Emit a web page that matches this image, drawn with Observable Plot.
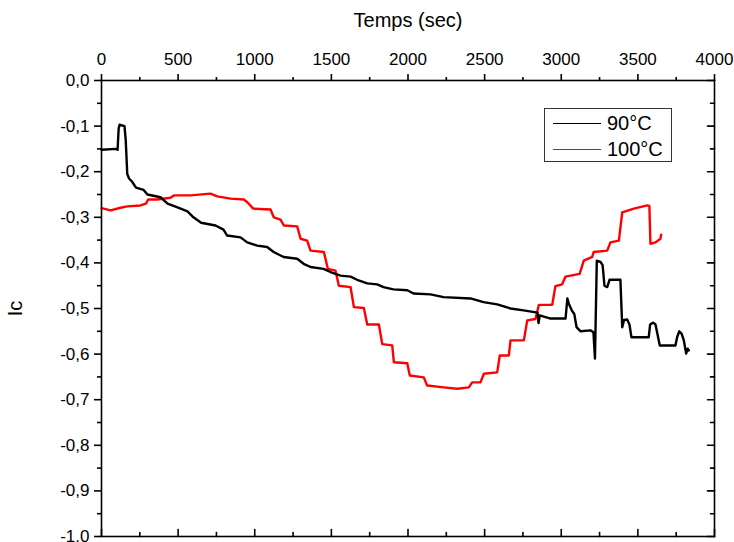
<!DOCTYPE html>
<html><head><meta charset="utf-8">
<script src="https://cdn.jsdelivr.net/npm/d3@7"></script>
<script src="https://cdn.jsdelivr.net/npm/@observablehq/plot@0.6"></script>
<style>
html,body{margin:0;padding:0;background:#fff;overflow:hidden;}
#wrap{position:relative;width:734px;height:542px;font-family:"Liberation Sans",Arial,sans-serif;color:#000;}
#legend{position:absolute;left:544px;top:108px;width:128px;height:54px;border:1px solid #333;box-sizing:border-box;background:#fff;}
.li{position:absolute;left:0;height:26px;width:126px;}
.li .sw{position:absolute;left:8px;width:48px;top:13px;height:0;border-top:1.3px solid;}
.li .lb{position:absolute;left:62px;top:1px;font-size:20px;line-height:24px;}
</style></head>
<body><div id="wrap"><div id="chart"></div><div id="legend"></div></div>
<script>
// 90°C series: time (s) and Ic
const t90 = [0,95,105,112,118,150,158,168,180,200,225,275,300,385,431,496,561,600,650,744,796,820,907,951,1016,1081,1123,1188,1277,1319,1364,1449,1494,1560,1625,1668,1734,1799,1840,1905,1995,2036,2147,2232,2408,2493,2582,2669,2754,2845,2852,2860,2930,3028,3040,3050,3070,3085,3100,3126,3191,3210,3220,3232,3256,3270,3282,3300,3315,3386,3398,3410,3430,3445,3458,3571,3580,3600,3615,3643,3745,3756,3770,3785,3800,3815,3825,3832];
const ic90 = [-0.152,-0.150,-0.152,-0.105,-0.097,-0.100,-0.130,-0.205,-0.215,-0.222,-0.235,-0.240,-0.250,-0.256,-0.270,-0.278,-0.287,-0.300,-0.312,-0.318,-0.327,-0.340,-0.344,-0.355,-0.362,-0.365,-0.376,-0.387,-0.391,-0.402,-0.409,-0.413,-0.420,-0.428,-0.430,-0.437,-0.445,-0.447,-0.453,-0.458,-0.460,-0.467,-0.469,-0.475,-0.478,-0.486,-0.491,-0.500,-0.504,-0.509,-0.532,-0.515,-0.522,-0.522,-0.478,-0.490,-0.505,-0.512,-0.541,-0.550,-0.548,-0.552,-0.610,-0.395,-0.398,-0.405,-0.450,-0.453,-0.437,-0.437,-0.541,-0.525,-0.524,-0.535,-0.563,-0.563,-0.535,-0.531,-0.535,-0.581,-0.581,-0.563,-0.550,-0.555,-0.570,-0.599,-0.588,-0.592];
// 100°C series
const t100 = [0,60,124,168,254,290,305,363,450,472,581,711,755,842,929,955,990,1103,1124,1168,1190,1277,1299,1342,1364,1451,1477,1527,1549,1625,1647,1712,1734,1810,1832,1897,1908,1995,2012,2103,2125,2234,2321,2397,2419,2473,2495,2582,2599,2658,2669,2756,2778,2832,2854,2941,2962,3006,3028,3120,3147,3202,3212,3300,3321,3376,3398,3474,3561,3575,3582,3615,3647,3652];
const ic100 = [-0.280,-0.285,-0.279,-0.276,-0.274,-0.270,-0.261,-0.261,-0.257,-0.252,-0.252,-0.248,-0.254,-0.259,-0.261,-0.268,-0.281,-0.283,-0.300,-0.305,-0.318,-0.320,-0.347,-0.351,-0.373,-0.376,-0.413,-0.417,-0.450,-0.453,-0.497,-0.499,-0.535,-0.535,-0.578,-0.581,-0.618,-0.620,-0.647,-0.651,-0.669,-0.673,-0.676,-0.673,-0.662,-0.662,-0.643,-0.640,-0.603,-0.603,-0.570,-0.570,-0.526,-0.523,-0.492,-0.492,-0.451,-0.447,-0.430,-0.424,-0.395,-0.387,-0.376,-0.373,-0.355,-0.351,-0.289,-0.281,-0.274,-0.275,-0.358,-0.355,-0.347,-0.338];
const seriesNames = ["90°C", "100°C"];
const seriesColors = ["#000000", "#ff0000"];
const xMajor = [0,500,1000,1500,2000,2500,3000,3500,4000];
const xMinor = [250,750,1250,1750,2250,2750,3250,3750];
const yMajor = [0,-0.1,-0.2,-0.3,-0.4,-0.5,-0.6,-0.7,-0.8,-0.9,-1.0];
const yMinor = [-0.05,-0.15,-0.25,-0.35,-0.45,-0.55,-0.65,-0.75,-0.85,-0.95];
const xTitle = "Temps (sec)";
const yTitle = "Ic";

const rows90 = t90.map((t,i)=>({t, ic: ic90[i], s: seriesNames[0]}));
const rows100 = t100.map((t,i)=>({t, ic: ic100[i], s: seriesNames[1]}));
const fmtY = d => (Math.abs(d) < 1e-9 ? 0 : d).toFixed(1).replace(".", ",");
const xMax = xMajor[xMajor.length-1], yMin = yMajor[yMajor.length-1];
const sw = 1.6;
const tickShape = {draw(context, l) { context.moveTo(0, 0); context.lineTo(0, -l); }};

const chart = Plot.plot({
  width: 734, height: 542,
  marginLeft: 101, marginRight: 20, marginTop: 80, marginBottom: 6,
  style: {fontFamily: "Liberation Sans, Arial, sans-serif", fontSize: "17px", color: "#000", background: "#fff", overflow: "visible"},
  x: {domain: [0, xMax]},
  y: {domain: [yMin, 0]},
  marks: [
    Plot.line(rows100, {x: "t", y: "ic", stroke: seriesColors[1], strokeWidth: 2.4}),
    Plot.line(rows90, {x: "t", y: "ic", stroke: seriesColors[0], strokeWidth: 2.4}),
    Plot.frame({stroke: "#000", strokeWidth: sw}),
    Plot.axisX(xMajor, {anchor: "top", tickSize: 7, tickPadding: 9, tickFormat: d => String(d), label: null, strokeWidth: sw, fontSize: 17}),
    Plot.axisX(xMinor, {anchor: "top", tickSize: 4, tickFormat: () => "", label: null, strokeWidth: sw}),
    Plot.axisX([], {anchor: "top", tickSize: 0, label: xTitle, labelAnchor: "center", labelArrow: "none", labelOffset: 68, fontSize: 20}),
    Plot.axisY(yMajor, {anchor: "left", tickSize: 7, tickPadding: 5, tickFormat: fmtY, label: null, strokeWidth: sw, fontSize: 17}),
    Plot.axisY(yMinor, {anchor: "left", tickSize: 4, tickFormat: () => "", label: null, strokeWidth: sw}),
    Plot.axisY([], {anchor: "left", tickSize: 0, label: yTitle, labelAnchor: "center", labelArrow: "none", labelOffset: 94, fontSize: 20}),
    Plot.vector(xMajor, {x: d => d, y: yMin, length: 7, rotate: 0, anchor: "start", shape: tickShape, stroke: "#000", strokeWidth: sw}),
    Plot.vector(xMinor, {x: d => d, y: yMin, length: 4, rotate: 0, anchor: "start", shape: tickShape, stroke: "#000", strokeWidth: sw}),
    Plot.vector(yMajor, {x: xMax, y: d => d, length: 7, rotate: -90, anchor: "start", shape: tickShape, stroke: "#000", strokeWidth: sw}),
    Plot.vector(yMinor, {x: xMax, y: d => d, length: 4, rotate: -90, anchor: "start", shape: tickShape, stroke: "#000", strokeWidth: sw})
  ]
});
document.getElementById("chart").appendChild(chart);

const legend = document.getElementById("legend");
seriesNames.forEach((name, i) => {
  const item = document.createElement("div");
  item.className = "li";
  item.style.top = (1 + i * 26) + "px";
  item.innerHTML = `<div class="sw" style="border-color:${seriesColors[i]}"></div><div class="lb">${name}</div>`;
  legend.appendChild(item);
});
</script></body></html>
